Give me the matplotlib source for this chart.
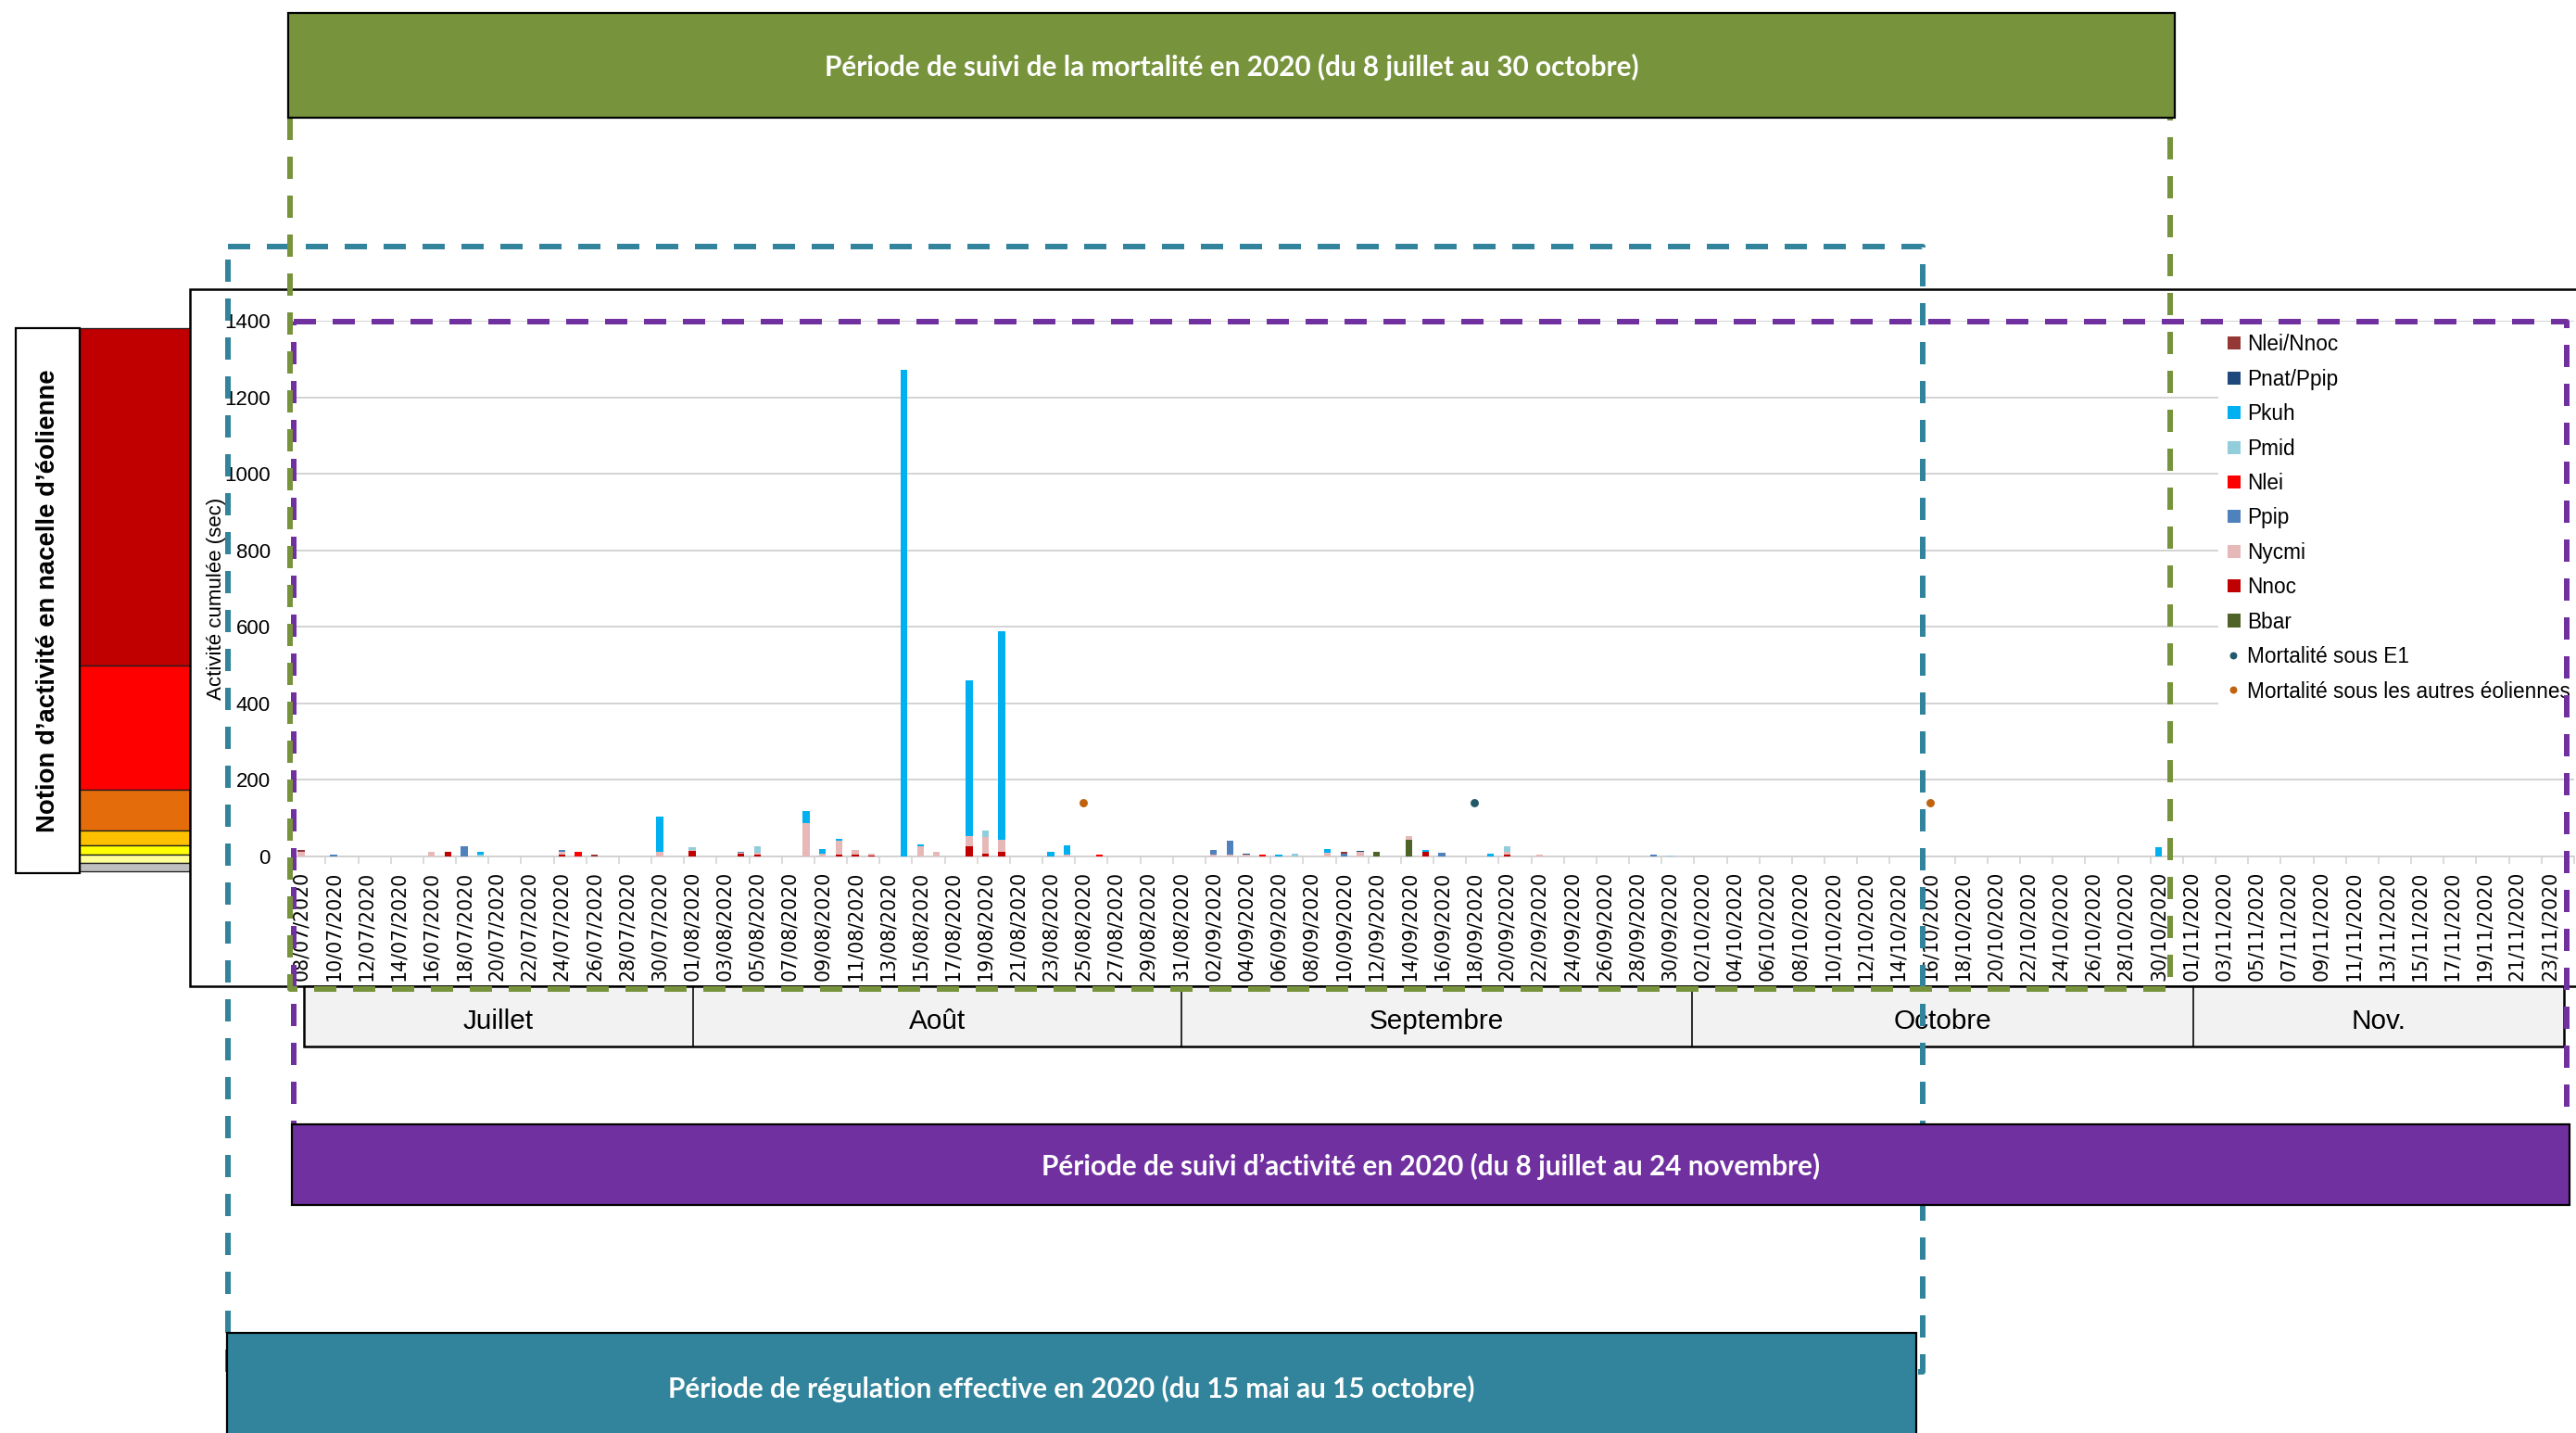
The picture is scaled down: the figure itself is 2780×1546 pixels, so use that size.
import numpy as np
import matplotlib
matplotlib.use("Agg")
import matplotlib.pyplot as plt
from matplotlib.patches import Rectangle
from matplotlib.lines import Line2D

# ---------------------------------------------------------------- data
start_day = np.datetime64("2020-07-08")
n_days = 140
days = start_day + np.arange(n_days)
day_keys = [f"{str(d)[8:10]}/{str(d)[5:7]}" for d in days]
tick_labels = [f"{k}/2020" for k in day_keys]

# series listed from the bottom of each stack to the top
series_names = ["Bbar", "Nnoc", "Nycmi", "Ppip", "Nlei", "Pmid", "Pkuh",
                "Pnat/Ppip", "Nlei/Nnoc"]
series_colors = ["#4F6228", "#C00000", "#E6B9B8", "#4F81BD", "#FF0000",
                 "#92CDDC", "#00B0F0", "#1F497D", "#953735"]

bbar = {"12/09": 11, "14/09": 43}
nnoc = {"17/07": 12, "24/07": 4, "01/08": 13, "04/08": 5, "05/08": 4,
        "10/08": 3, "11/08": 3, "12/08": 2, "18/08": 25, "19/08": 7,
        "20/08": 12, "15/09": 10, "20/09": 3}
nycmi = {"08/07": 12, "16/07": 10, "24/07": 6, "30/07": 10, "01/08": 2,
         "04/08": 3, "05/08": 4, "08/08": 87, "09/08": 5, "10/08": 36,
         "11/08": 13, "12/08": 3, "15/08": 26, "16/08": 12, "18/08": 28,
         "19/08": 42, "20/08": 31, "24/08": 4, "02/09": 3, "03/09": 3,
         "04/09": 3, "09/09": 8, "11/09": 11, "14/09": 9, "20/09": 8,
         "22/09": 3}
ppip = {"10/07": 3, "18/07": 25, "24/07": 6, "04/08": 4, "02/09": 12,
        "03/09": 38, "10/09": 6, "16/09": 9, "29/09": 3}
nlei = {"25/07": 11, "26/08": 4, "05/09": 4}
pmid = {"19/07": 4, "01/08": 9, "05/08": 18, "19/08": 17, "07/09": 5,
        "20/09": 15, "30/09": 2}
pkuh = {"19/07": 7, "30/07": 94, "08/08": 31, "09/08": 13, "10/08": 6,
        "14/08": 1273, "15/08": 4, "18/08": 407, "20/08": 545, "23/08": 10,
        "24/08": 25, "06/09": 4, "09/09": 10, "15/09": 6, "19/09": 5,
        "30/10": 24}
pnat_ppip = {"04/09": 3, "11/09": 3}
nlei_nnoc = {"08/07": 4, "26/07": 4, "10/09": 4}
series_values = [bbar, nnoc, nycmi, ppip, nlei, pmid, pkuh, pnat_ppip, nlei_nnoc]

mort_e1 = {"18/09": 140}
mort_other = {"25/08": 140, "16/10": 140}
mort_labels = ["Mortalité sous E1", "Mortalité sous les autres éoliennes"]
mort_colors = ["#215968", "#C0620E"]

months = ["Juillet", "Août", "Septembre", "Octobre", "Nov."]

activity_levels = ["#C00000", "#FF0000", "#E46C0A", "#FFC000", "#FFFF00",
                   "#FFFF99", "#BFBFBF"]

# ---------------------------------------------------------------- layout helpers
W, H, DPI = 2780, 1546, 100
fig = plt.figure(figsize=(W / DPI, H / DPI), dpi=DPI)
fig.patch.set_facecolor("white")


def fx(px):
    return px / W


def fy(py):
    return 1 - py / H


def pt(px):
    return px * 72 / DPI


def rect(x0, y0, x1, y1, **kw):
    r = Rectangle((fx(x0), fy(y1)), fx(x1) - fx(x0), fy(y0) - fy(y1),
                  transform=fig.transFigure, **kw)
    fig.add_artist(r)
    return r


def line(xs, ys, **kw):
    ln = Line2D([fx(x) for x in xs], [fy(y) for y in ys],
                transform=fig.transFigure, **kw)
    fig.add_artist(ln)
    return ln


SANS = ["Liberation Sans", "DejaVu Sans"]
NARROW = ["Liberation Sans Narrow", "Liberation Sans", "DejaVu Sans"]
TITLE = ["Lato", "Liberation Sans", "DejaVu Sans"]

# ---------------------------------------------------------------- chart frame
rect(204.5, 312, 2800, 1064, facecolor="white", edgecolor="black",
     linewidth=pt(2.5), zorder=-2)

# activity-level scale on the left
level_edges = [354, 718, 851.8, 896.4, 912.4, 922, 931.3, 939.7]
for i, c in enumerate(activity_levels):
    rect(86, level_edges[i], 204.7, level_edges[i + 1], facecolor=c,
         edgecolor="#202020", linewidth=pt(1.3), zorder=-3)
rect(17.3, 354, 86, 942, facecolor="white", edgecolor="black",
     linewidth=pt(2.2), zorder=-3)
fig.text(fx(52), fy(648), "Notion d\u2019activité en nacelle d\u2019éolienne",
         rotation=90, ha="center", va="center", family=NARROW,
         fontweight="bold", fontsize=19.8, color="black")

# ---------------------------------------------------------------- bar chart
ax = fig.add_axes([fx(316.2), fy(923.5), fx(2778) - fx(316.2),
                   fy(346.4) - fy(923.5)])
ax.set_facecolor("none")
x = np.arange(n_days)
bottom = np.zeros(n_days)
for name, col, vals in zip(series_names, series_colors, series_values):
    h = np.array([vals.get(k, 0) for k in day_keys], dtype=float)
    ax.bar(x, h, width=0.42, bottom=bottom, color=col, label=name,
           linewidth=0, zorder=3)
    bottom += h

for vals, col in zip([mort_e1, mort_other], mort_colors):
    xs = [day_keys.index(k) for k in vals]
    ax.plot(xs, list(vals.values()), "o", ms=5.4, color=col, zorder=4)

ax.set_xlim(-0.5, n_days - 0.5)
ax.set_ylim(0, 1400)
ax.set_yticks(np.arange(0, 1401, 200))
ax.yaxis.grid(True, color="#D0D0D0", linewidth=pt(1.8), zorder=0)
ax.set_axisbelow(True)
for s in ["top", "right", "left"]:
    ax.spines[s].set_visible(False)
ax.spines["bottom"].set_color("#D0D0D0")
ax.spines["bottom"].set_linewidth(pt(1.8))

ax.set_xticks(x[::2])
ax.set_xticklabels(tick_labels[::2], rotation=90, family="DejaVu Sans",
                   fontsize=14.8, color="black")
ax.set_xticks(np.arange(-0.5, n_days, 2), minor=True)
ax.tick_params(axis="x", which="major", length=0, pad=pt(16))
ax.tick_params(axis="x", which="minor", length=pt(8), color="#D0D0D0",
               width=pt(1.5))
ax.tick_params(axis="y", length=0, pad=pt(24.4), labelsize=16,
               labelcolor="black")
for lab in ax.get_yticklabels():
    lab.set_family(SANS)

fig.text(fx(233), fy(646), "Activité cumulée (sec)", rotation=90,
         ha="center", va="center", family=SANS, fontsize=16, color="black")

# ---------------------------------------------------------------- legend
rect(2394, 350, 2800, 772, facecolor="white", edgecolor="none", zorder=2)
leg_y0, leg_dy = 370.3, 37.4
legend_order = list(zip(series_names, series_colors))[::-1]
for i, (name, col) in enumerate(legend_order):
    yc = leg_y0 + i * leg_dy
    rect(2403.5, yc - 7, 2417.5, yc + 7, facecolor=col, edgecolor="none",
         zorder=3)
    fig.text(fx(2425), fy(yc + 8.2), name, ha="left", va="baseline",
             family=SANS, fontsize=16.3, color="black", zorder=3)
for j, (name, col) in enumerate(zip(mort_labels, mort_colors)):
    yc = leg_y0 + (len(legend_order) + j) * leg_dy
    line([2410.3], [yc], marker="o", ms=pt(6.5), color=col,
         linestyle="none", zorder=3)
    fig.text(fx(2425), fy(yc + 8.2), name, ha="left", va="baseline",
             family=SANS, fontsize=16.3, color="black", zorder=3)

# ---------------------------------------------------------------- month band
rect(327.5, 1064, 2767, 1129, facecolor="#F2F2F2", edgecolor="black",
     linewidth=pt(2.5), zorder=2)
month_edges = [327.5, 747.6, 1275, 1826, 2367, 2767]
for xe in month_edges[1:-1]:
    line([xe, xe], [1064, 1129], color="black", linewidth=pt(1.6), zorder=2)
for i, m in enumerate(months):
    xc = (month_edges[i] + month_edges[i + 1]) / 2
    fig.text(fx(xc), fy(1110), m, ha="center", va="baseline", family=SANS,
             fontsize=21.4, color="black", zorder=3)

# ---------------------------------------------------------------- periods
green, purple, teal = "#77933C", "#7030A0", "#31849B"
dash = dict(linewidth=pt(6), linestyle=(0, (4, 3)), solid_capstyle="butt",
            dash_capstyle="butt")

line([245.5, 2074.6, 2074.6, 245.5, 245.5], [266, 266, 1480, 1480, 266],
     color=teal, zorder=4, **dash)
line([317, 2770, 2770, 317, 317], [346.7, 346.7, 1235, 1235, 346.7],
     color=purple, zorder=4, **dash)
line([312.5, 312.5, 2342, 2342], [127, 1066.5, 1066.5, 127],
     color=green, zorder=5, **dash)

rect(310.7, 14, 2347, 126.7, facecolor=green, edgecolor="black",
     linewidth=pt(2.2), zorder=6)
fig.text(fx(1329), fy(81.7),
         "Période de suivi de la mortalité en 2020 (du 8 juillet au 30 octobre)",
         ha="center", va="baseline", family=TITLE, fontweight="bold",
         fontsize=21.4, color="white", zorder=7)

rect(314.8, 1212.7, 2773, 1300, facecolor=purple, edgecolor="black",
     linewidth=pt(2.2), zorder=6)
fig.text(fx(1544), fy(1268.3),
         "Période de suivi d\u2019activité en 2020 (du 8 juillet au 24 novembre)",
         ha="center", va="baseline", family=TITLE, fontweight="bold",
         fontsize=21.4, color="white", zorder=7)

rect(244.8, 1437.7, 2067.5, 1600, facecolor=teal, edgecolor="black",
     linewidth=pt(2.2), zorder=6)
fig.text(fx(1156), fy(1508.3),
         "Période de régulation effective en 2020 (du 15 mai au 15 octobre)",
         ha="center", va="baseline", family=TITLE, fontweight="bold",
         fontsize=21.4, color="white", zorder=7)

fig.savefig("out.png", dpi=DPI, facecolor="white")
